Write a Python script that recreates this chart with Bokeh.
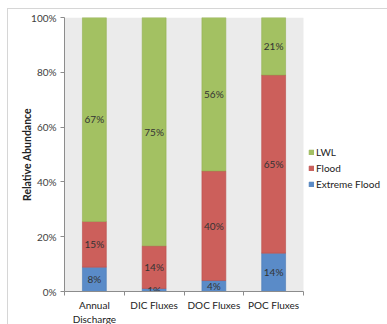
from bokeh.plotting import figure
from bokeh.models import ColumnDataSource, FixedTicker, NumeralTickFormatter, Legend, LegendItem, Range1d
from bokeh.core.properties import value
from bokeh.embed import file_html
from bokeh.resources import INLINE

categories = ["Annual\nDischarge", "DIC Fluxes", "DOC Fluxes", "POC Fluxes"]
extreme_flood = [8, 1, 4, 14]
flood = [15, 14, 40, 65]
lwl = [67, 75, 56, 21]
y_ticks = [0, 0.2, 0.4, 0.6, 0.8, 1.0]

FONT = "Lato"
C_LWL = "#a3c162"
C_FLOOD = "#cc5f5b"
C_EXT = "#5a8bc8"
PLOT_BG = "#ebebeb"

N = len(categories)
PLOT_W = 239      # width in px of the grey plotting area
FRAME_W = 321     # frame extended to the right to host the legend
FRAME_H = 274

xs = [i + 0.5 for i in range(N)]
tot = [a + b + c for a, b, c in zip(extreme_flood, flood, lwl)]
e_top = [a / t for a, t in zip(extreme_flood, tot)]
f_top = [(a + b) / t for a, b, t in zip(extreme_flood, flood, tot)]
l_top = [1.0 for _ in tot]

src = ColumnDataSource(dict(
    x=xs, e_top=e_top, f_top=f_top, l_top=l_top, zero=[0] * N,
    e_mid=[t / 2 for t in e_top],
    f_mid=[(a + b) / 2 for a, b in zip(e_top, f_top)],
    l_mid=[(a + b) / 2 for a, b in zip(f_top, l_top)],
    e_lab=[f"{v}%" for v in extreme_flood],
    f_lab=[f"{v}%" for v in flood],
    l_lab=[f"{v}%" for v in lwl],
))

p = figure(frame_width=FRAME_W, frame_height=FRAME_H, margin=(8, 0, 0, 7), output_backend="svg",
           toolbar_location=None, x_range=Range1d(0, N * FRAME_W / PLOT_W), y_range=Range1d(0, 1),
           min_border_left=56, min_border_right=2, min_border_top=8, min_border_bottom=32)
p.styles = {"border": "1px solid #d6d6d6"}
p.background_fill_color = "white"
p.border_fill_color = "white"
p.outline_line_color = None
p.xgrid.visible = False
p.ygrid.visible = False

# grey plotting area spanning the categories
p.quad(left=0, right=N, bottom=y_ticks[0], top=y_ticks[-1], fill_color=PLOT_BG, line_color=None)

W = 0.4
r_e = p.vbar(x="x", bottom="zero", top="e_top", width=W, source=src, fill_color=C_EXT, line_color="#4a7ab5", line_width=0.6)
r_f = p.vbar(x="x", bottom="e_top", top="f_top", width=W, source=src, fill_color=C_FLOOD, line_color="#b84e4a", line_width=0.6)
r_l = p.vbar(x="x", bottom="f_top", top="l_top", width=W, source=src, fill_color=C_LWL, line_color="#93b052", line_width=0.6)

for col, ycol in (("e_lab", "e_mid"), ("f_lab", "f_mid"), ("l_lab", "l_mid")):
    p.text(x="x", y=ycol, text=col, source=src, text_align="center", text_baseline="middle",
           text_font=value(FONT), text_font_size="10px", text_color="#333333")

# y axis
ya = p.yaxis[0]
ya.ticker = FixedTicker(ticks=y_ticks, minor_ticks=[])
ya.formatter = NumeralTickFormatter(format="0%")
ya.axis_label = "Relative Abundance"
ya.axis_label_text_font = FONT
ya.axis_label_text_font_style = "bold"
ya.axis_label_text_font_size = "10.5px"
ya.axis_label_text_color = "#222222"
ya.axis_label_standoff = -5
ya.major_label_text_font = FONT
ya.major_label_text_font_size = "10px"
ya.major_label_text_color = "#404040"
ya.major_label_standoff = 4
ya.major_tick_out = 4
ya.major_tick_in = 0
ya.axis_line_color = "#8c8c8c"
ya.major_tick_line_color = "#8c8c8c"

# x axis
xa = p.xaxis[0]
xa.bounds = (0, N)
xa.ticker = FixedTicker(ticks=xs, minor_ticks=list(range(N + 1)))
xa.major_label_overrides = {x: c for x, c in zip(xs, categories)}
xa.major_label_text_font = FONT
xa.major_label_text_font_size = "10px"
xa.major_label_text_color = "#222222"
xa.major_label_standoff = 3
xa.major_tick_out = 0
xa.major_tick_in = 0
xa.minor_tick_out = 4
xa.minor_tick_in = 0
xa.axis_line_color = "#8c8c8c"
xa.minor_tick_line_color = "#8c8c8c"

legend = Legend(items=[
    LegendItem(label="LWL", renderers=[r_l]),
    LegendItem(label="Flood", renderers=[r_f]),
    LegendItem(label="Extreme Flood", renderers=[r_e]),
], location=(244, 101))
legend.label_text_font = FONT
legend.label_text_font_size = "10px"
legend.label_text_color = "#222222"
legend.glyph_width = 6
legend.glyph_height = 6
legend.label_standoff = 2
legend.spacing = 4
legend.padding = 0
legend.margin = 0
legend.background_fill_alpha = 0
legend.border_line_color = None
legend.label_height = 10
p.add_layout(legend, "center")

open("out.html", "w").write(file_html(p, INLINE))
